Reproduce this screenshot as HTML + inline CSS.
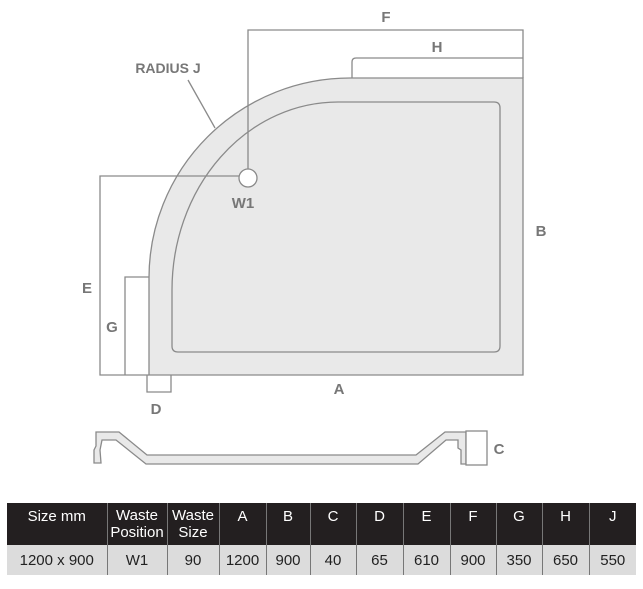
<!DOCTYPE html><html><head><style>
body{margin:0;background:#fff;width:643px;height:589px;overflow:hidden;font-family:"Liberation Sans",sans-serif}
svg{position:absolute;left:0;top:0}
table{position:absolute;left:7px;top:503px;width:629px;table-layout:fixed;border-collapse:collapse;font-family:"Liberation Sans",sans-serif;font-size:15px}
td{padding:0;text-align:center}
.h td{background:#231f20;color:#fff;height:42px;vertical-align:top;padding-top:5px;border-right:1px solid #777;box-sizing:border-box}
.h td.m{vertical-align:middle;padding-top:0;line-height:17px}
.d td{background:#dcdcdc;color:#222;height:30px;border-right:1px solid #777}
td:last-child{border-right:none}
</style></head><body>
<svg width="643" height="589" viewBox="0 0 643 589">
<g fill="none" stroke="#8a8a8a" stroke-width="1.3">
<path d="M350 78 L523 78 L523 375 L149 375 L149 278 A201 200 0 0 1 350 78 Z" fill="#e9e9e9"/>
<path d="M338 102 L494 102 Q500 102 500 108 L500 346 Q500 352 494 352 L178 352 Q172 352 172 346 L172 290 A166 188 0 0 1 338 102 Z"/>
<path d="M248 170 L248 30 L523 30 L523 78"/>
<path d="M352 78 L352 62 Q352 58 356 58 L523 58"/>
<path d="M240 176 L100 176 L100 375 L149 375"/>
<path d="M149 277 L125 277 L125 375"/>
<path d="M147 375 L147 392 L171 392 L171 375"/>
<path d="M188 80 L215 128"/>
<circle cx="248" cy="178" r="9" fill="#fff"/>
<path d="M96 432 L119 432 L147 455 L416 455 L445 432 L466 432 L466 464 L461 464 L461 450 L458 448 L458 440 L446 440 L418 464 L146 464 L116 440 L102 440 L100 450 L101 463 L94 463 L94 450 L96 446 Z" fill="#e9e9e9"/>
<rect x="466" y="431" width="21" height="34" fill="#fff"/>
</g>
<g fill="#777" font-weight="bold" font-size="15" font-family="Liberation Sans,sans-serif" text-anchor="middle">
<text x="386" y="22">F</text><text x="437" y="52">H</text>
<text x="168" y="73" font-size="14">RADIUS J</text>
<text x="243" y="208">W1</text><text x="541" y="236">B</text>
<text x="87" y="293">E</text><text x="112" y="332">G</text>
<text x="339" y="394">A</text><text x="156" y="414">D</text>
<text x="499" y="454">C</text>
</g>
</svg>
<table>
<colgroup><col style="width:100px"><col style="width:60px"><col style="width:52px"><col style="width:47px"><col style="width:44px"><col style="width:46px"><col style="width:47px"><col style="width:47px"><col style="width:46px"><col style="width:46px"><col style="width:47px"><col style="width:47px"></colgroup>
<tr class="h"><td>Size mm</td><td class="m">Waste<br>Position</td><td class="m">Waste<br>Size</td><td>A</td><td>B</td><td>C</td><td>D</td><td>E</td><td>F</td><td>G</td><td>H</td><td>J</td></tr>
<tr class="d"><td>1200 x 900</td><td>W1</td><td>90</td><td>1200</td><td>900</td><td>40</td><td>65</td><td>610</td><td>900</td><td>350</td><td>650</td><td>550</td></tr>
</table>
</body></html>
